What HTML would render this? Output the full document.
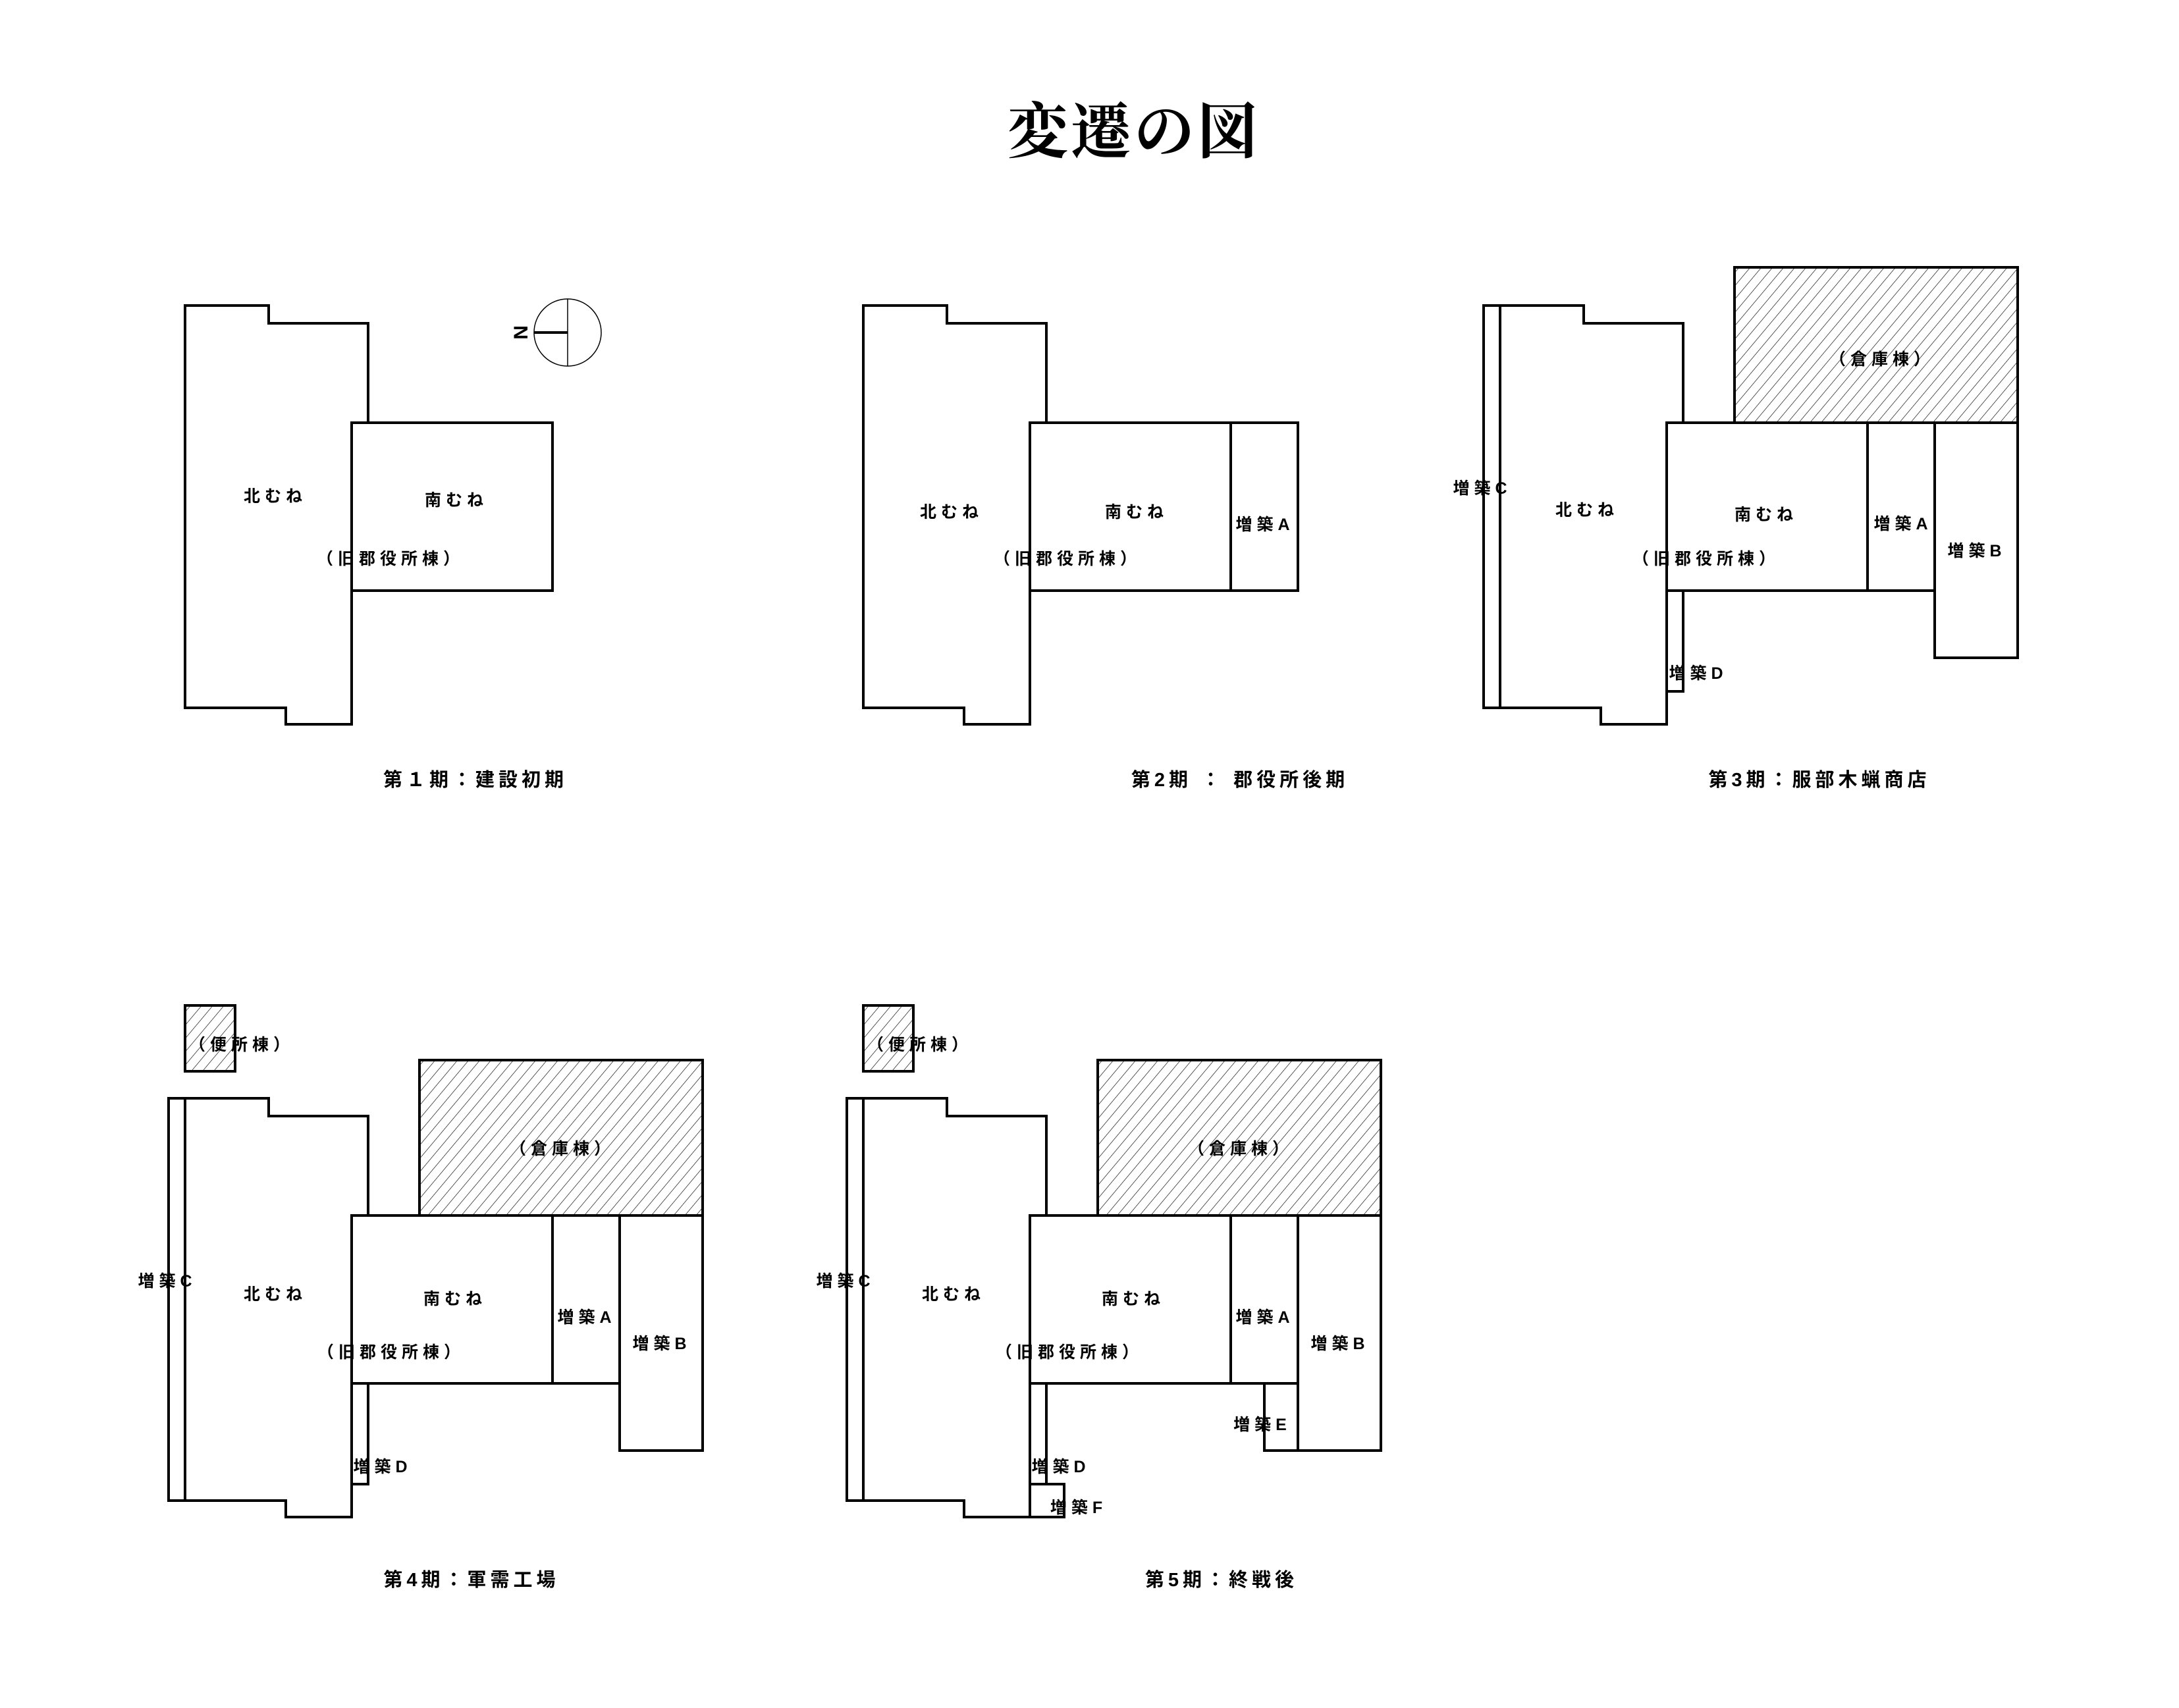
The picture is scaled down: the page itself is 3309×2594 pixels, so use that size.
<!DOCTYPE html>
<html><head><meta charset="utf-8"><style>
html,body{margin:0;padding:0;background:#fff;}
svg{display:block;}
text{font-family:"Liberation Sans","Noto Sans CJK JP",sans-serif;font-weight:bold;fill:#000;}
.t{font-family:"Liberation Serif","Noto Serif CJK SC","Noto Serif CJK JP",serif;font-weight:bold;}
.l{font-size:25px;letter-spacing:7px;}
.c{font-size:29px;letter-spacing:6px;}
</style></head><body>
<svg width="3309" height="2594" viewBox="0 0 3309 2594" xmlns="http://www.w3.org/2000/svg">
<defs>
<pattern id="h" patternUnits="userSpaceOnUse" width="13" height="13" patternTransform="rotate(40)">
<line x1="0" y1="0" x2="0" y2="13" stroke="#000" stroke-width="1.3"/>
</pattern>
</defs>
<rect width="3309" height="2594" fill="#fff"/>
<text class="t" x="1722" y="232" font-size="92" text-anchor="middle" letter-spacing="4">変遷の図</text>

<g fill="none" stroke="#000" stroke-width="4" stroke-linejoin="miter">
<g>
<path d="M559,642 V491 H408 V464 H281 V1075 H434 V1100 H534 V642"/>
<rect x="534" y="642" width="305" height="255"/>
</g>
<g transform="translate(1030,0)">
<path d="M559,642 V491 H408 V464 H281 V1075 H434 V1100 H534 V642"/>
<rect x="534" y="642" width="305" height="255"/>
<rect x="839" y="642" width="102" height="255"/>
</g>
<g transform="translate(1997,0)">
<rect x="637" y="406" width="430" height="236" fill="url(#h)"/>
<rect x="256" y="464" width="25" height="611"/>
<path d="M559,642 V491 H408 V464 H281 V1075 H434 V1100 H534 V642"/>
<rect x="534" y="642" width="305" height="255"/>
<rect x="839" y="642" width="102" height="255"/>
<rect x="941" y="642" width="126" height="357"/>
<rect x="534" y="897" width="25" height="153"/>
</g>
<g transform="translate(0,1204)">
<rect x="281" y="323" width="76" height="100" fill="url(#h)"/>
<rect x="637" y="406" width="430" height="236" fill="url(#h)"/>
<rect x="256" y="464" width="25" height="611"/>
<path d="M559,642 V491 H408 V464 H281 V1075 H434 V1100 H534 V642"/>
<rect x="534" y="642" width="305" height="255"/>
<rect x="839" y="642" width="102" height="255"/>
<rect x="941" y="642" width="126" height="357"/>
<rect x="534" y="897" width="25" height="153"/>
</g>
<g transform="translate(1030,1204)">
<rect x="281" y="323" width="76" height="100" fill="url(#h)"/>
<rect x="637" y="406" width="430" height="236" fill="url(#h)"/>
<rect x="256" y="464" width="25" height="611"/>
<path d="M559,642 V491 H408 V464 H281 V1075 H434 V1100 H534 V642"/>
<rect x="534" y="642" width="305" height="255"/>
<rect x="839" y="642" width="102" height="255"/>
<rect x="941" y="642" width="126" height="357"/>
<rect x="534" y="897" width="25" height="153"/>
<rect x="890" y="897" width="51" height="102"/>
<rect x="534" y="1050" width="52" height="50"/>
</g>
</g>

<circle cx="862" cy="505" r="51" fill="none" stroke="#000" stroke-width="1.5"/>
<line x1="862" y1="454" x2="862" y2="556" stroke="#000" stroke-width="1.5"/>
<line x1="811" y1="505" x2="862" y2="505" stroke="#000" stroke-width="4"/>
<text x="790" y="505" font-size="30" text-anchor="middle" dominant-baseline="central" transform="rotate(90 790 505)">N</text>

<g text-anchor="middle" dominant-baseline="central">
<text class="l" x="418" y="754">北むね</text>
<text class="l" x="693" y="760">南むね</text>
<text class="l" x="593" y="849">（旧郡役所棟）</text>
<text class="c" x="722" y="1185">第１期：建設初期</text>
<g transform="translate(1030,0)">
<text class="l" x="415" y="778">北むね</text>
<text class="l" x="696" y="778">南むね</text>
<text class="l" x="891" y="797">増築A</text>
<text class="l" x="591" y="849">（旧郡役所棟）</text>
</g>
<text class="c" x="1883" y="1185">第2期 ： 郡役所後期</text>
<g transform="translate(1997,0)">
<text class="l" x="861" y="546">（倉庫棟）</text>
<text class="l" x="254" y="742">増築C</text>
<text class="l" x="413" y="775">北むね</text>
<text class="l" x="685" y="782">南むね</text>
<text class="l" x="893" y="796">増築A</text>
<text class="l" x="1005" y="837">増築B</text>
<text class="l" x="594" y="849">（旧郡役所棟）</text>
<text class="l" x="582" y="1023">増築D</text>
</g>
<text class="c" x="2763" y="1185">第3期：服部木蝋商店</text>
<g transform="translate(0,1204)">
<text class="l" x="367" y="383">（便所棟）</text>
<text class="l" x="854" y="541">（倉庫棟）</text>
<text class="l" x="254" y="742">増築C</text>
<text class="l" x="418" y="762">北むね</text>
<text class="l" x="691" y="769">南むね</text>
<text class="l" x="891" y="797">増築A</text>
<text class="l" x="1005" y="837">増築B</text>
<text class="l" x="594" y="850">（旧郡役所棟）</text>
<text class="l" x="581" y="1024">増築D</text>
</g>
<text class="c" x="716" y="2400">第4期：軍需工場</text>
<g transform="translate(1030,1204)">
<text class="l" x="367" y="383">（便所棟）</text>
<text class="l" x="854" y="541">（倉庫棟）</text>
<text class="l" x="254" y="742">増築C</text>
<text class="l" x="418" y="762">北むね</text>
<text class="l" x="691" y="769">南むね</text>
<text class="l" x="891" y="797">増築A</text>
<text class="l" x="1005" y="837">増築B</text>
<text class="l" x="594" y="850">（旧郡役所棟）</text>
<text class="l" x="887" y="960">増築E</text>
<text class="l" x="581" y="1024">増築D</text>
<text class="l" x="608" y="1086">増築F</text>
</g>
<text class="c" x="1855" y="2400">第5期：終戦後</text>
</g>
</svg>
</body></html>
